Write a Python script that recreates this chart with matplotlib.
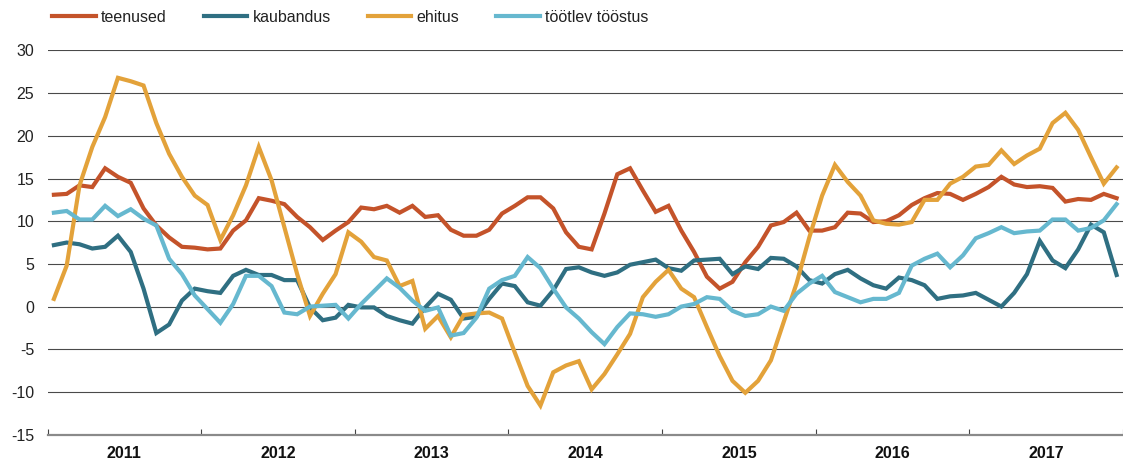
"""
Business confidence by sector, 2011-2017 (monthly balance).
"""

import numpy as np
import matplotlib
matplotlib.use("Agg")
import matplotlib.pyplot as plt
from matplotlib.transforms import blended_transform_factory


# -------------------------
# Data (Jan 2011 ... Dec 2017)
# -------------------------
years = ["2011", "2012", "2013", "2014", "2015", "2016", "2017"]

teenused = [13.1, 13.2, 14.2, 14.0, 16.2, 15.2, 14.5, 11.5, 9.5, 8.1, 7.0, 6.9,
            6.7, 6.8, 8.9, 10.1, 12.7, 12.4, 12.0, 10.5, 9.3, 7.8, 8.9, 9.9,
            11.6, 11.4, 11.8, 11.0, 11.8, 10.5, 10.7, 9.0, 8.3, 8.3, 9.0, 10.9,
            11.8, 12.8, 12.8, 11.5, 8.7, 7.0, 6.7, 10.9, 15.5, 16.2, 13.6, 11.1,
            11.8, 8.9, 6.4, 3.5, 2.1, 2.9, 5.2, 7.0, 9.5, 9.9, 11.0, 8.9,
            8.9, 9.3, 11.0, 10.9, 9.9, 10.0, 10.7, 11.9, 12.7, 13.3, 13.2, 12.5,
            13.2, 14.0, 15.2, 14.3, 14.0, 14.1, 13.9, 12.3, 12.6, 12.5, 13.2, 12.7]

kaubandus = [7.2, 7.5, 7.3, 6.8, 7.0, 8.3, 6.4, 2.1, -3.1, -2.1, 0.7, 2.1,
             1.8, 1.6, 3.6, 4.3, 3.7, 3.7, 3.1, 3.1, -0.1, -1.6, -1.3, 0.2,
             -0.1, -0.1, -1.1, -1.6, -2.0, -0.1, 1.5, 0.8, -1.4, -1.2, 0.9, 2.7,
             2.4, 0.5, 0.1, 1.9, 4.4, 4.6, 4.0, 3.6, 4.0, 4.9, 5.2, 5.5,
             4.5, 4.2, 5.4, 5.5, 5.6, 3.8, 4.7, 4.4, 5.7, 5.6, 4.7, 3.1,
             2.7, 3.8, 4.3, 3.3, 2.5, 2.1, 3.4, 3.1, 2.5, 0.9, 1.2, 1.3,
             1.6, 0.8, 0.0, 1.6, 3.8, 7.7, 5.4, 4.5, 6.7, 9.6, 8.7, 3.7]

ehitus = [0.9, 4.8, 14.2, 18.7, 22.2, 26.8, 26.4, 25.9, 21.5, 17.9, 15.2, 13.0,
          11.9, 7.8, 10.7, 14.2, 18.7, 14.8, 9.3, 3.8, -1.1, 1.5, 3.8, 8.7,
          7.6, 5.8, 5.4, 2.4, 3.0, -2.6, -1.1, -3.6, -1.0, -0.8, -0.7, -1.4,
          -5.4, -9.3, -11.6, -7.7, -6.9, -6.4, -9.7, -7.9, -5.6, -3.2, 1.1, 2.9,
          4.3, 2.1, 1.1, -2.4, -5.8, -8.7, -10.1, -8.7, -6.3, -1.8, 2.7, 8.1,
          13.0, 16.6, 14.6, 13.0, 10.1, 9.7, 9.6, 9.9, 12.5, 12.5, 14.4, 15.2,
          16.4, 16.6, 18.3, 16.7, 17.7, 18.5, 21.5, 22.7, 20.7, 17.5, 14.4, 16.3]

tootlev = [11.0, 11.2, 10.2, 10.2, 11.8, 10.6, 11.4, 10.3, 9.5, 5.6, 3.8, 1.3,
           -0.3, -1.9, 0.3, 3.6, 3.6, 2.4, -0.7, -0.9, 0.0, 0.1, 0.2, -1.4,
           0.3, 1.8, 3.3, 2.2, 0.7, -0.5, -0.1, -3.4, -3.1, -1.3, 2.1, 3.1,
           3.6, 5.8, 4.5, 2.1, -0.1, -1.4, -3.0, -4.4, -2.4, -0.8, -0.9, -1.2,
           -0.9, 0.0, 0.3, 1.1, 0.9, -0.5, -1.1, -0.9, 0.0, -0.5, 1.5, 2.7,
           3.6, 1.7, 1.1, 0.5, 0.9, 0.9, 1.6, 4.8, 5.6, 6.2, 4.6, 6.0,
           8.0, 8.6, 9.3, 8.6, 8.8, 8.9, 10.2, 10.2, 8.9, 9.2, 10.1, 12.0]

series_names = ["teenused", "kaubandus", "ehitus", "töötlev tööstus"]
series_colors = ["#C4532A", "#2F6F82", "#E3A23A", "#66B8CF"]
y_ticks = [-15, -10, -5, 0, 5, 10, 15, 20, 25, 30]


def main():
    plt.rcParams["font.family"] = ["Liberation Sans", "DejaVu Sans"]

    fig = plt.figure(figsize=(11.23, 4.62), dpi=100)
    ax = fig.add_axes([47.5 / 1123, 27.4 / 462, 1 - 47.5 / 1123, 384.1 / 462])

    months = np.arange(len(teenused)) + 0.5
    for vals, name, col in zip([teenused, kaubandus, ehitus, tootlev],
                               series_names, series_colors):
        ax.plot(months, vals, color=col, lw=3.0, label=name,
                solid_joinstyle="miter", zorder=3)

    # axes limits: right edge of the picture cuts into Dec 2017
    ax.set_xlim(0, (1123 - 47.5) / 12.92)
    ax.set_ylim(-15, 30)

    # horizontal grid (no line at -15, that one is the axis)
    for yv in y_ticks[1:]:
        ax.axhline(yv, color="#4a4a4a", lw=0.8, zorder=1)

    for s in ["top", "right", "left"]:
        ax.spines[s].set_visible(False)
    ax.spines["bottom"].set_color("#8a8a8a")
    ax.spines["bottom"].set_linewidth(1.6)

    ax.set_yticks(y_ticks)
    ax.set_yticklabels([str(v) for v in y_ticks])
    ax.tick_params(axis="y", length=0, pad=9.5, labelsize=11.5, labelcolor="#222222")

    # year boundaries as ticks, labels centred under each year
    ax.set_xticks(np.arange(0, 12 * len(years) + 1, 12))
    ax.set_xticklabels([])
    ax.tick_params(axis="x", which="major", direction="in", length=4.5,
                   width=0.8, color="#444444")
    trans = blended_transform_factory(ax.transData, fig.transFigure)
    for k, yr in enumerate(years):
        ax.text(12 * k + 6, 1 / 462, yr, transform=trans, ha="center",
                va="bottom", fontsize=11.5, fontweight="bold", color="#111111")

    fig.legend(loc="upper left", bbox_to_anchor=(52 / 1123, 1 - 10 / 462),
               ncol=4, frameon=False, fontsize=11.5, handlelength=2.75,
               handletextpad=0.32, columnspacing=2.3, borderpad=0,
               borderaxespad=0, labelcolor="#222222")

    fig.savefig("out.png", dpi=100)
    plt.close(fig)


if __name__ == "__main__":
    main()
